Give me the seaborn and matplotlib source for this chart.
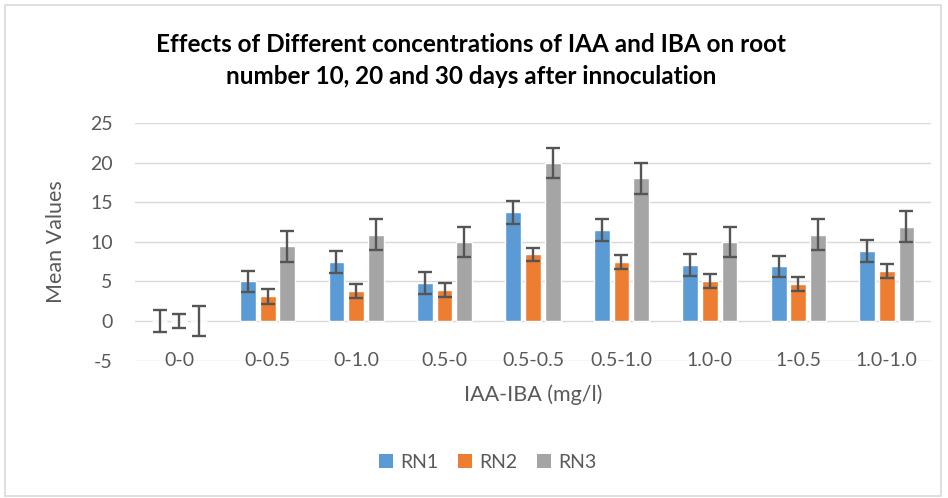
import numpy as np
import pandas as pd
import seaborn as sns
import matplotlib
matplotlib.use("Agg")
import matplotlib.pyplot as plt
from matplotlib.patches import Rectangle, Patch

categories = ["0-0", "0-0.5", "0-1.0", "0.5-0", "0.5-0.5", "0.5-1.0", "1.0-0", "1-0.5", "1.0-1.0"]
series = ["RN1", "RN2", "RN3"]
rn1 = [0.0, 5.0, 7.45, 4.76, 13.7, 11.55, 7.1, 6.9, 8.9]
rn2 = [0.0, 3.1, 3.8, 3.95, 8.4, 7.45, 5.0, 4.63, 6.35]
rn3 = [0.0, 9.45, 10.9, 9.95, 19.95, 18.0, 9.95, 10.9, 11.9]
rn1_err = [1.35, 1.37, 1.39, 1.37, 1.39, 1.39, 1.39, 1.37, 1.39]
rn2_err = [0.9, 0.9, 0.88, 0.88, 0.88, 0.88, 0.88, 0.88, 0.86]
rn3_err = [1.9, 1.94, 1.92, 1.9, 1.92, 1.92, 1.9, 1.92, 1.94]
colors = ["#5B9BD5", "#ED7D31", "#A5A5A5"]
yticks = [-5, 0, 5, 10, 15, 20, 25]

values = [rn1, rn2, rn3]
errors = [rn1_err, rn2_err, rn3_err]
df = pd.DataFrame({
    "cat": np.repeat([categories], 3, axis=0).ravel(),
    "series": np.repeat(series, len(categories)),
    "val": np.concatenate(values),
})

sns.set_theme(style="white")
plt.rcParams["font.family"] = ["Lato", "DejaVu Sans"]
txt = "#595959"

fig = plt.figure(figsize=(9.48, 4.98), dpi=100)
ax = fig.add_axes([135/948, 1-360.6/498, (931-135)/948, (360.6-123)/498])
sns.barplot(data=df, x="cat", y="val", hue="series", order=categories, hue_order=series,
            palette=colors, errorbar=None, width=0.667, gap=0.2, ax=ax, legend=False,
            saturation=1)

for cont, err in zip(ax.containers, errors):
    xs = [b.get_x() + b.get_width()/2 for b in cont]
    hs = [b.get_height() for b in cont]
    ax.errorbar(xs, hs, yerr=err, fmt="none", ecolor="#555555", elinewidth=1.7,
                capsize=5.0, capthick=1.7, zorder=5)

ax.set_ylim(-5, 25)
ax.set_xlim(-0.5, len(categories) - 0.5)
ax.set_yticks(yticks)
ax.set_yticklabels([str(t) for t in yticks], fontsize=14, color=txt)
ax.tick_params(axis="y", length=0, pad=16)
ax.set_xticks([])
ax.set_xlabel("")
ax.set_ylabel("")
for s in ax.spines.values():
    s.set_visible(False)
ax.grid(axis="y", color="#d9d9d9", linewidth=1.0)
ax.set_axisbelow(True)
for i, c in enumerate(categories):
    ax.text(i, -5, c, ha="center", va="center", fontsize=14, color=txt)

fig.text(56/948, 1-242/498, "Mean Values", rotation=90, ha="center", va="center",
         fontsize=15.5, color=txt)
fig.text(533/948, 1-395/498, "IAA-IBA (mg/l)", ha="center", va="center", fontsize=15.5, color=txt)
fig.text(471/948, 1-44/498, "Effects of Different concentrations of IAA and IBA on root",
         ha="center", va="center", fontsize=17.5, fontweight="bold", color="black")
fig.text(471/948, 1-76/498, "number 10, 20 and 30 days after innoculation",
         ha="center", va="center", fontsize=17.5, fontweight="bold", color="black")

handles = [Patch(facecolor=c, edgecolor="none") for c in colors]
leg = fig.legend(handles, series, loc="center", bbox_to_anchor=(488/948, 1-462/498),
                 ncol=3, frameon=False, fontsize=14, handlelength=0.7, handleheight=0.7,
                 handletextpad=0.4, columnspacing=1.0)
for t in leg.get_texts():
    t.set_color(txt)

fig.patches.append(Rectangle((5/948, 2/498), 936/948, 491/498, transform=fig.transFigure,
                             fill=False, edgecolor="#d9d9d9", linewidth=1.2))

fig.savefig("out.png", dpi=100)
